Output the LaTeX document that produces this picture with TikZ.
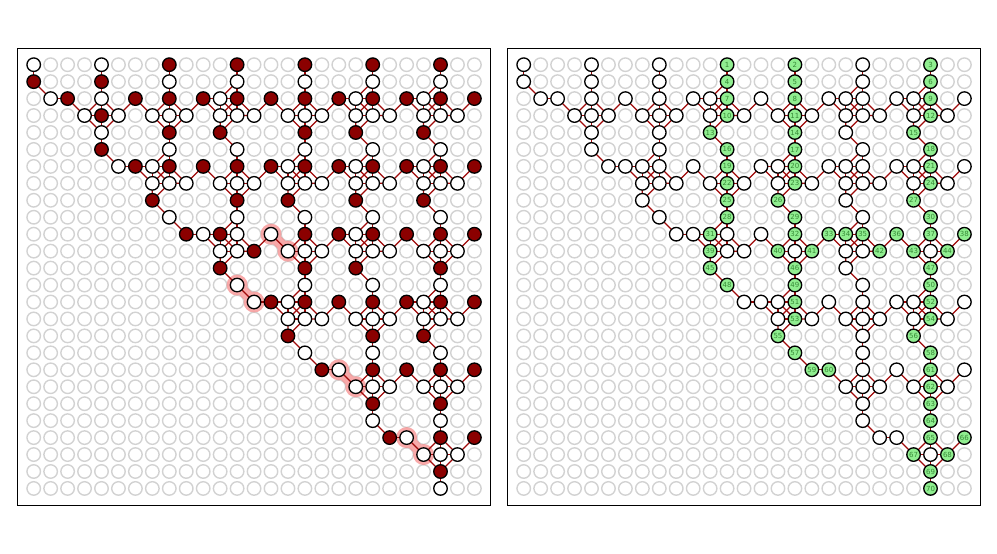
\documentclass[tikz,border=0pt]{standalone}
\usepackage{fontspec}
\newfontfamily\labfont{DejaVu Sans}
\pgfdeclarelayer{gridlayer}
\pgfdeclarelayer{glowlayer}
\pgfdeclarelayer{edgelayer}
\pgfsetlayers{gridlayer,glowlayer,edgelayer,main}
\definecolor{edgered}{RGB}{160,10,10}
\definecolor{nodered}{RGB}{139,0,0}
\definecolor{gridgray}{RGB}{210,210,210}
\definecolor{lgreen}{RGB}{144,238,144}
\definecolor{labgreen}{RGB}{55,140,55}
\definecolor{glowpink}{RGB}{245,140,140}
\tikzset{
  gridc/.style={circle,draw=gridgray,line width=1.4pt,minimum size=13.5pt,inner sep=0pt},
  wn/.style={circle,draw=black,line width=1.3pt,fill=white,minimum size=13.5pt,inner sep=0pt},
  rn/.style={wn,fill=nodered},
  gn/.style={wn,fill=lgreen,text=labgreen,font=\labfont\fontsize{7}{7}\selectfont},
  edge/.style={draw=edgered,line width=1.25pt},
  glowline/.style={draw=glowpink,line width=11pt,line cap=round},
  glowdot/.style={fill=glowpink},
  frame/.style={draw=black,line width=0.9pt}
}
\def\Lwhite{0/0,4/0, 8/1,12/1,16/1,20/1,24/1, 1/2,4/2,11/2,19/2,23/2, 3/3,5/3,7/3,8/3,9/3,11/3,12/3,13/3,15/3,16/3,17/3,19/3,20/3,21/3,23/3,24/3,25/3, 4/4, 8/5,12/5,16/5,20/5,24/5, 5/6,7/6,15/6,19/6,23/6, 7/7,8/7,9/7,11/7,12/7,13/7,15/7,16/7,17/7,19/7,20/7,21/7,23/7,24/7,25/7, 8/9,12/9,16/9,20/9,24/9, 10/10,12/10,14/10,19/10, 11/11,12/11,15/11,16/11,17/11,19/11,20/11,21/11,23/11,24/11,25/11, 12/13,16/13,20/13,24/13, 13/14,15/14,23/14, 15/15,16/15,17/15,19/15,20/15,21/15,23/15,24/15,25/15, 16/17,20/17,24/17, 18/18, 19/19,20/19,21/19,23/19,24/19,25/19, 20/21,24/21, 22/22, 23/23,24/23,25/23, 24/25}
\def\Lred{8/0,12/0,16/0,20/0,24/0, 0/1,4/1, 2/2,6/2,8/2,10/2,12/2,14/2,16/2,18/2,20/2,22/2,24/2,26/2, 4/3, 8/4,11/4,16/4,19/4,23/4, 4/5, 6/6,8/6,10/6,12/6,14/6,16/6,18/6,20/6,22/6,24/6,26/6, 7/8,12/8,15/8,19/8,23/8, 9/10,11/10,16/10,18/10,20/10,22/10,24/10,26/10, 13/11, 11/12,16/12,19/12,24/12, 14/14,16/14,18/14,20/14,22/14,24/14,26/14, 15/16,20/16,23/16, 17/18,20/18,22/18,24/18,26/18, 20/20,24/20, 21/22,24/22,26/22, 24/24}
\def\Rwhite{0/0,4/0,8/0,20/0, 0/1,4/1,8/1,20/1, 1/2,2/2,4/2,6/2,8/2,10/2,11/2,14/2,18/2,19/2,20/2,22/2,23/2,26/2, 3/3,4/3,5/3,7/3,8/3,9/3,11/3,13/3,15/3,17/3,19/3,20/3,21/3,23/3,25/3, 4/4,8/4,19/4, 4/5,8/5,20/5, 5/6,6/6,7/6,8/6,10/6,14/6,15/6,18/6,19/6,20/6,22/6,23/6,26/6, 7/7,8/7,9/7,11/7,13/7,15/7,17/7,19/7,20/7,21/7,23/7,25/7, 7/8,19/8, 8/9,20/9, 9/10,10/10,12/10,14/10, 12/11,13/11,16/11,19/11,20/11,24/11, 19/12, 20/13, 13/14,14/14,15/14,18/14,20/14,22/14,23/14,26/14, 15/15,17/15,19/15,20/15,21/15,23/15,25/15, 20/16, 20/17, 20/18,22/18,26/18, 19/19,20/19,21/19,23/19,25/19, 20/20, 20/21, 21/22,22/22, 24/23}
\def\Rgreen{12/0/1,16/0/2,24/0/3,12/1/4,16/1/5,24/1/6,12/2/7,16/2/8,24/2/9,12/3/10,16/3/11,24/3/12,11/4/13,16/4/14,23/4/15,12/5/16,16/5/17,24/5/18,12/6/19,16/6/20,24/6/21,12/7/22,16/7/23,24/7/24,12/8/25,15/8/26,23/8/27,12/9/28,16/9/29,24/9/30,11/10/31,16/10/32,18/10/33,19/10/34,20/10/35,22/10/36,24/10/37,26/10/38,11/11/39,15/11/40,17/11/41,21/11/42,23/11/43,25/11/44,11/12/45,16/12/46,24/12/47,12/13/48,16/13/49,24/13/50,16/14/51,24/14/52,16/15/53,24/15/54,15/16/55,23/16/56,16/17/57,24/17/58,17/18/59,18/18/60,24/18/61,24/19/62,24/20/63,24/21/64,24/22/65,26/22/66,23/23/67,25/23/68,24/24/69,24/25/70}
% standard 5-node clusters (centre col/row)
\def\Pfive{4/3,8/3,16/3,12/7,16/11,24/11,20/15,20/19,24/19,24/23}
% 6-node clusters (centre col/row)
\def\Psix{12/3,20/3,24/3,8/7,16/7,20/7,24/7,12/11,20/11,16/15,24/15}
% other connectors
\def\Links{0/0/0/1,0/1/1/2,1/2/2/2,2/2/3/3, 4/0/4/1,4/1/4/2, 8/0/8/1,8/1/8/2, 12/0/12/1,12/1/12/2,12/1/11/2, 16/0/16/1,16/1/16/2, 20/0/20/1,20/1/20/2,20/1/19/2, 24/0/24/1,24/1/24/2,24/1/23/2,
4/4/4/5,4/5/5/6,5/6/6/6,6/6/7/7,6/6/7/6, 8/4/8/5,8/5/8/6,8/5/7/6, 11/4/12/5,12/5/12/6, 16/4/16/5,16/5/16/6,16/5/15/6, 19/4/20/5,20/5/20/6,20/5/19/6, 23/4/24/5,24/5/24/6,24/5/23/6,
7/8/8/9,8/9/9/10,9/10/10/10,10/10/11/11,10/10/11/10, 12/8/12/9,12/9/12/10,12/9/11/10, 15/8/16/9,16/9/16/10, 19/8/20/9,20/9/20/10,20/9/19/10, 23/8/24/9,24/9/24/10,
11/12/12/13,12/13/13/14,13/14/14/14,14/14/15/15,14/14/15/14, 16/12/16/13,16/13/16/14,16/13/15/14, 19/12/20/13,20/13/20/14, 24/12/24/13,24/13/24/14,24/13/23/14,
15/16/16/17,16/17/17/18,17/18/18/18,18/18/19/19, 20/16/20/17,20/17/20/18, 23/16/24/17,24/17/24/18,
20/20/20/21,20/21/21/22,21/22/22/22,22/22/23/23, 24/20/24/21,24/21/24/22, 24/24/24/25,
5/3/6/2,6/2/7/3, 9/3/10/2,10/2/11/3,10/2/11/2, 13/3/14/2,14/2/15/3, 17/3/18/2,18/2/19/3,18/2/19/2, 21/3/22/2,22/2/23/3,22/2/23/2, 25/3/26/2,
9/7/10/6,10/6/11/7, 13/7/14/6,14/6/15/7,14/6/15/6, 17/7/18/6,18/6/19/7,18/6/19/6, 21/7/22/6,22/6/23/7,22/6/23/6, 25/7/26/6,
13/11/14/10,14/10/15/11, 17/11/18/10,18/10/19/11,18/10/19/10, 21/11/22/10,22/10/23/11, 25/11/26/10,
17/15/18/14,18/14/19/15, 21/15/22/14,22/14/23/15,22/14/23/14, 25/15/26/14,
21/19/22/18,22/18/23/19, 25/19/26/18, 25/23/26/22}
\begin{document}
\begin{tikzpicture}[x=1pt,y=-1pt]
\useasboundingbox (0,0) rectangle (997,554);
\draw[frame] (17,48) rectangle (490,505);
\draw[frame] (507,48) rectangle (980,505);
% background grid of empty sites
\begin{pgfonlayer}{gridlayer}
\foreach \p/\xo in {L/33.7,R/523.7}{
  \foreach \col in {0,...,26}{
    \foreach \row in {0,...,25}{
      \node[gridc] (g\p\col r\row) at ({\xo+16.95*\col},{64.7+16.95*\row}) {};
    }
  }
}
\end{pgfonlayer}
% left panel nodes
\foreach \col/\row in \Lwhite { \node[wn] (L\col r\row) at ({33.7+16.95*\col},{64.7+16.95*\row}) {}; }
\foreach \col/\row in \Lred { \node[rn] (L\col r\row) at ({33.7+16.95*\col},{64.7+16.95*\row}) {}; }
% right panel nodes
\foreach \col/\row in \Rwhite { \node[wn] (R\col r\row) at ({523.7+16.95*\col},{64.7+16.95*\row}) {}; }
\foreach \col/\row/\num in \Rgreen { \node[gn] (R\col r\row) at ({523.7+16.95*\col},{64.7+16.95*\row}) {\num}; }
% connectors
\begin{pgfonlayer}{edgelayer}
\foreach \p in {L,R}{
  \foreach \col/\row in \Pfive {
    \pgfmathtruncatemacro\cl{\col-1}\pgfmathtruncatemacro\cR{\col+1}
    \pgfmathtruncatemacro\rt{\row-1}\pgfmathtruncatemacro\rb{\row+1}
    \draw[edge] (\p\col r\rt.center) -- (\p\cl r\row.center) -- (\p\col r\rb.center) -- (\p\cR r\row.center) -- cycle;
    \draw[edge] (\p\col r\rt.center) -- (\p\col r\rb.center);
    \draw[edge] (\p\cl r\row.center) -- (\p\cR r\row.center);
  }
  \foreach \col/\row in \Psix {
    \pgfmathtruncatemacro\cl{\col-1}\pgfmathtruncatemacro\cR{\col+1}
    \pgfmathtruncatemacro\rt{\row-1}\pgfmathtruncatemacro\rb{\row+1}
    \draw[edge] (\p\cl r\rt.center) -- (\p\col r\rt.center) -- (\p\col r\row.center) -- (\p\cl r\row.center) -- cycle;
    \draw[edge] (\p\cl r\rt.center) -- (\p\col r\row.center);
    \draw[edge] (\p\col r\rt.center) -- (\p\cl r\row.center);
    \draw[edge] (\p\col r\rt.center) -- (\p\cR r\row.center) -- (\p\col r\row.center);
    \draw[edge] (\p\cl r\row.center) -- (\p\cl r\rb.center) -- (\p\col r\row.center);
  }
  \foreach \a/\b/\c/\d in \Links {
    \draw[edge] (\p\a r\b.center) -- (\p\c r\d.center);
  }
}
\end{pgfonlayer}
% highlighted connectors (left panel)
\begin{pgfonlayer}{glowlayer}
\foreach \a/\b/\c/\d in {14/10/15/11,12/13/13/14,18/18/19/19,22/22/23/23}{
  \begin{scope}[transparency group,opacity=0.75]
    \draw[glowline] (L\a r\b.center) -- (L\c r\d.center);
    \fill[glowdot] (L\a r\b.center) circle (10.5pt);
    \fill[glowdot] (L\c r\d.center) circle (10.5pt);
  \end{scope}
}
\end{pgfonlayer}
\end{tikzpicture}
\end{document}
